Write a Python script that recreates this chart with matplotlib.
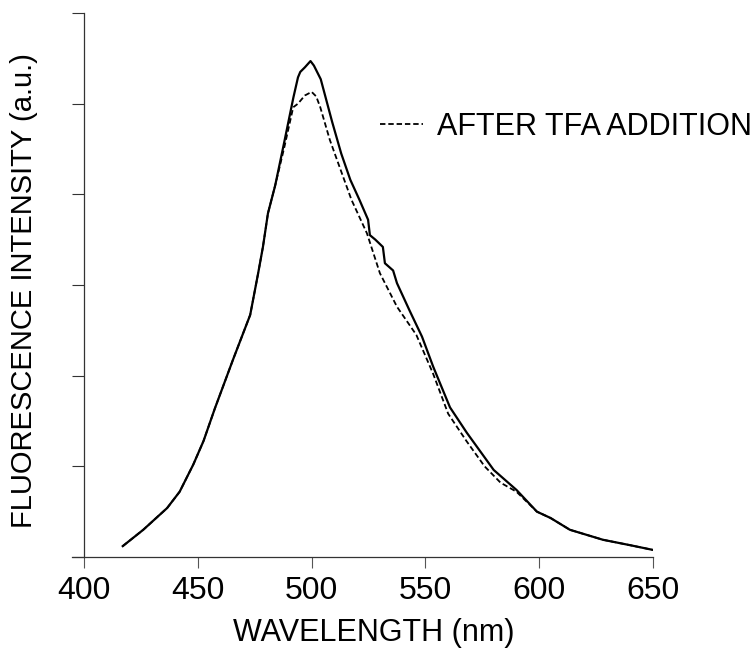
import numpy as np
import matplotlib.pyplot as plt

# =====================================================
# DATA
# =====================================================

# before TFA (solid line)
wl_before = [417, 426, 436.5, 442, 448, 452.5, 457.5, 465.5, 473, 476.5, 478.6, 480.8, 484,
             488, 492, 494, 495, 497, 499.5, 501, 504, 509, 513, 517, 521, 524.8, 525.6,
             528, 531.3, 532.2, 535.8, 537.5, 543, 548.5, 553.4, 560.8, 568.2, 580, 590,
             599, 605, 613.5, 628, 640, 649.6]
int_before = [0.12, 0.30, 0.54, 0.72, 1.02, 1.28, 1.64, 2.18, 2.67, 3.13, 3.42, 3.79, 4.10,
              4.58, 5.07, 5.29, 5.35, 5.40, 5.47, 5.42, 5.27, 4.80, 4.45, 4.16, 3.94, 3.72, 3.55,
              3.50, 3.42, 3.24, 3.16, 3.02, 2.72, 2.43, 2.10, 1.65, 1.37, 0.96, 0.74,
              0.50, 0.43, 0.30, 0.19, 0.13, 0.08]

# after TFA addition (dashed line)
wl_after = [417, 426, 436.5, 442, 448, 452.5, 457.5, 465.5, 473, 476.5, 478.6, 480.8, 484,
            488, 491.9, 494, 497, 500, 502, 503.8, 508, 512.3, 517.5, 524.3, 530, 537.5,
            546, 553.4, 560, 568, 576, 583, 590, 599, 605, 613.5, 628, 640, 649.6]
int_after = [0.12, 0.30, 0.54, 0.72, 1.02, 1.28, 1.64, 2.18, 2.67, 3.13, 3.42, 3.79, 4.10,
             4.52, 4.96, 5.00, 5.09, 5.13, 5.08, 4.96, 4.60, 4.30, 3.94, 3.57, 3.13, 2.76,
             2.45, 2.02, 1.58, 1.28, 1.00, 0.82, 0.72, 0.50, 0.43, 0.30, 0.19, 0.13, 0.08]

x_ticks = [400, 450, 500, 550, 600, 650]
y_ticks = [0, 1, 2, 3, 4, 5, 6]

# =====================================================
# PLOT
# =====================================================

plt.rcParams['font.family'] = ['Liberation Sans', 'DejaVu Sans']

fig = plt.figure(figsize=(7.55, 6.51), dpi=100)
ax = fig.add_axes([72 / 755, 94 / 651, 581 / 755, 544 / 651])

ax.plot(wl_before, int_before, color="black", lw=1.6, solid_joinstyle="round")
ax.plot(wl_after, int_after, color="black", lw=1.3, linestyle=(0, (3, 1.6)),
        label="AFTER TFA ADDITION")

ax.set_xlim(394.7, 650)
ax.set_ylim(0, 6)

ax.spines["top"].set_visible(False)
ax.spines["right"].set_visible(False)
ax.spines["left"].set_position(("data", 400))
for side in ["left", "bottom"]:
    ax.spines[side].set_color("#333333")
    ax.spines[side].set_linewidth(0.9)

ax.set_xticks(x_ticks)
ax.set_yticks(y_ticks)
ax.set_yticklabels([])
ax.tick_params(axis="x", direction="out", length=8, width=0.8, color="#555555",
               labelsize=23, pad=6)
ax.tick_params(axis="y", direction="out", length=8.5, width=0.8, color="#333333")

ax.set_xlabel("WAVELENGTH (nm)", fontsize=22)
ax.xaxis.set_label_coords(0.52, -0.112)
ax.set_ylabel("FLUORESCENCE INTENSITY (a.u.)", fontsize=21, va="center")
ax.yaxis.set_label_coords(-0.082, 0.49)

ax.legend(loc="center left", bbox_to_anchor=(380 / 755, 1 - 127 / 651),
          bbox_transform=fig.transFigure, frameon=False, fontsize=22,
          handlelength=1.4, handletextpad=0.45, borderpad=0, borderaxespad=0)

fig.savefig("out.png", dpi=100)
